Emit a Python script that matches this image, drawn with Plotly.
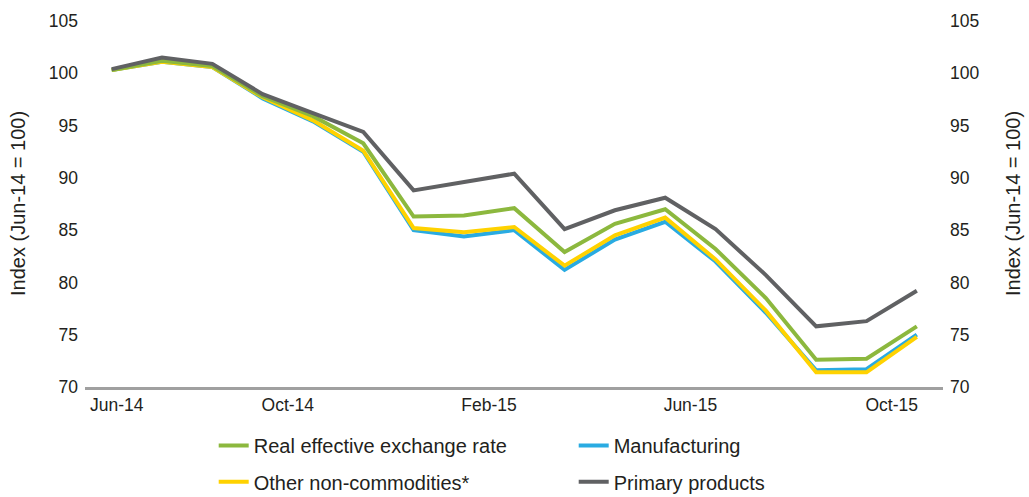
import plotly.graph_objects as go

months = ["Jun-14", "Jul-14", "Aug-14", "Sep-14", "Oct-14", "Nov-14", "Dec-14", "Jan-15",
          "Feb-15", "Mar-15", "Apr-15", "May-15", "Jun-15", "Jul-15", "Aug-15", "Sep-15", "Oct-15"]
tick_labels = ["Jun-14", "Oct-14", "Feb-15", "Jun-15", "Oct-15"]

reer = [100.3, 101.2, 100.7, 97.8, 95.9, 93.3, 86.3, 86.4, 87.1, 82.9, 85.6, 87.0, 83.2, 78.5, 72.6, 72.7, 75.8]
manufacturing = [100.3, 101.1, 100.6, 97.6, 95.4, 92.5, 85.0, 84.4, 85.0, 81.2, 84.1, 85.8, 82.0, 77.1, 71.6, 71.7, 75.0]
other_noncomm = [100.3, 101.1, 100.6, 97.7, 95.5, 92.6, 85.2, 84.8, 85.3, 81.6, 84.5, 86.2, 82.2, 77.3, 71.4, 71.4, 74.8]
primary = [100.4, 101.5, 100.9, 98.0, 96.2, 94.4, 88.8, 89.6, 90.4, 85.1, 86.9, 88.1, 85.1, 80.7, 75.8, 76.3, 79.2]

GREEN = "#8CB83E"
BLUE = "#29ABE2"
YELLOW = "#FFD200"
GREY = "#606163"
TEXT = "#231F20"
FONT = "Liberation Sans, Arial, sans-serif"

idx = list(range(len(months)))
# label positions on the numeric axis (labels sit half a month left of the point, first one nudged in)
tick_pos = [0.1, 3.5, 7.5, 11.5, 15.5]

fig = go.Figure()

fig.add_trace(go.Scatter(x=idx, y=manufacturing, name="Manufacturing", mode="lines",
                         line=dict(color=BLUE, width=4), legend="legend", legendrank=2,
                         customdata=months))
fig.add_trace(go.Scatter(x=idx, y=other_noncomm, name="Other non-commodities*", mode="lines",
                         line=dict(color=YELLOW, width=4), legend="legend2", legendrank=3,
                         customdata=months))
fig.add_trace(go.Scatter(x=idx, y=reer, name="Real effective exchange rate", mode="lines",
                         line=dict(color=GREEN, width=4), legend="legend", legendrank=1,
                         customdata=months))
fig.add_trace(go.Scatter(x=idx, y=primary, name="Primary products", mode="lines",
                         line=dict(color=GREY, width=4), legend="legend2", legendrank=4,
                         customdata=months))
# invisible trace to activate right axis
fig.add_trace(go.Scatter(x=idx, y=primary, yaxis="y2", mode="lines", showlegend=False,
                         line=dict(width=0), opacity=0, hoverinfo="skip"))

legend_common = dict(orientation="h", xanchor="left", yanchor="middle",
                     font=dict(family=FONT, size=20, color=TEXT),
                     entrywidth=315, entrywidthmode="pixels", bgcolor="rgba(0,0,0,0)",
                     itemwidth=30)

TITLE = "Index (Jun-14 = 100)"

fig.update_layout(
    width=1029, height=497,
    margin=dict(l=85, r=86, t=21, b=110, autoexpand=False),
    paper_bgcolor="white", plot_bgcolor="white",
    font=dict(family=FONT, size=17.5, color=TEXT),
    xaxis=dict(range=[-0.53, 16.52], tickmode="array", tickvals=tick_pos, ticktext=tick_labels,
               showgrid=False, zeroline=False, showline=True, linecolor="#A0A0A0", linewidth=3,
               ticks="", tickfont=dict(size=17.5, color=TEXT), automargin=False),
    yaxis=dict(range=[70, 105], dtick=5, showgrid=False, zeroline=False, showline=False,
               ticks="", tickfont=dict(size=17.5, color=TEXT), automargin=False,
               ticklabelstandoff=6),
    yaxis2=dict(range=[70, 105], dtick=5, overlaying="y", side="right", showgrid=False,
                zeroline=False, showline=False, ticks="", tickfont=dict(size=17.5, color=TEXT),
                automargin=False, ticklabelstandoff=6),
    legend=dict(x=0.150, y=-0.160, **legend_common),
    legend2=dict(x=0.150, y=-0.259, **legend_common),
    annotations=[
        dict(text=TITLE, xref="paper", yref="paper", x=-85 / 858 + 18 / 858, y=0.5,
             textangle=-90, showarrow=False, xanchor="center", yanchor="middle",
             font=dict(size=20, color=TEXT)),
        dict(text=TITLE, xref="paper", yref="paper", x=1 + (1013 - 943) / 858, y=0.5,
             textangle=-90, showarrow=False, xanchor="center", yanchor="middle",
             font=dict(size=20, color=TEXT)),
    ],
    showlegend=True,
)

fig.write_html("out.html", config={"displayModeBar": False},
               post_script="document.body.style.margin='0';")
